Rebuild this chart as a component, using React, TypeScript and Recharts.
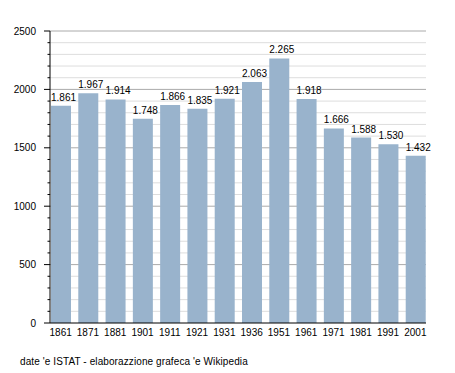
import React from "react";
import { BarChart, Bar, XAxis, YAxis, CartesianGrid, LabelList } from "recharts";

const years = ["1861", "1871", "1881", "1901", "1911", "1921", "1931", "1936", "1951", "1961", "1971", "1981", "1991", "2001"];
const population = [1861, 1967, 1914, 1748, 1866, 1835, 1921, 2063, 2265, 1918, 1666, 1588, 1530, 1432];
const yTicks = Array.from({ length: 26 }, (_, i) => i * 100);
const majorTicks = [0, 500, 1000, 1500, 2000, 2500];
const sourceText = "date 'e ISTAT - elaborazzione grafeca 'e Wikipedia";

const data = years.map((y, i) => ({ year: y, value: population[i] }));
const minorValues = yTicks.filter((v) => v % 500 !== 0);
const majorValues = majorTicks.filter((v) => v > 0);

const FONT = "'Liberation Sans', Arial, Helvetica, sans-serif";

const fmt = (v: number) => {
  const s = String(v);
  return s.length > 3 ? s.slice(0, s.length - 3) + "." + s.slice(s.length - 3) : s;
};

const YTick = (props: any) => {
  const { x, y, payload } = props;
  const v = payload.value;
  const major = v % 500 === 0;
  return (
    <g>
      <line x1={x - (major ? 6 : 2.5)} x2={x} y1={y} y2={y} stroke="#000" strokeWidth={1} />
      {major && (
        <text x={x - 14} y={y} dy="0.35em" textAnchor="end" fontSize={10} fontFamily={FONT} fill="#000">
          {v}
        </text>
      )}
    </g>
  );
};

const ValueLabel = (props: any) => {
  const { x, y, width, value } = props;
  return (
    <text x={x + width / 2 + 2.5} y={y - 5} textAnchor="middle" fontSize={10} fontFamily={FONT} fill="#000">
      {fmt(Number(value))}
    </text>
  );
};

export default function App() {
  return (
    <div style={{ position: "absolute", left: 0, top: 0, width: 455, height: 373, background: "#fff" }}>
      <BarChart
        width={455}
        height={373}
        data={data}
        margin={{ top: 31, right: 29, left: 0, bottom: 30 }}
        barSize={20}
      >
        <CartesianGrid vertical={false} horizontalValues={minorValues} stroke="#dddddd" strokeDasharray="" />
        <CartesianGrid vertical={false} horizontalValues={majorValues} stroke="#aaaaaa" strokeDasharray="" />
        <XAxis
          dataKey="year"
          height={20}
          interval={0}
          tickLine={false}
          tickSize={0}
          tickMargin={6}
          padding={{ left: -3, right: -3 }}
          axisLine={{ stroke: "#000", strokeWidth: 1 }}
          tick={{ fontSize: 10, fontFamily: FONT, fill: "#000" }}
        />
        <YAxis
          width={50}
          domain={[0, 2500]}
          ticks={yTicks}
          interval={0}
          tickLine={false}
          tickSize={0}
          tickMargin={0}
          axisLine={{ stroke: "#000", strokeWidth: 1 }}
          tick={<YTick />}
        />
        <Bar dataKey="value" fill="#99b3cc" isAnimationActive={false}>
          <LabelList dataKey="value" content={<ValueLabel />} />
        </Bar>
      </BarChart>
      <div
        style={{
          position: "absolute",
          left: 20,
          top: 356,
          fontSize: 10,
          fontFamily: FONT,
          color: "#000",
          whiteSpace: "nowrap",
          lineHeight: "12px",
          letterSpacing: "0.1px",
        }}
      >
        {sourceText}
      </div>
    </div>
  );
}
